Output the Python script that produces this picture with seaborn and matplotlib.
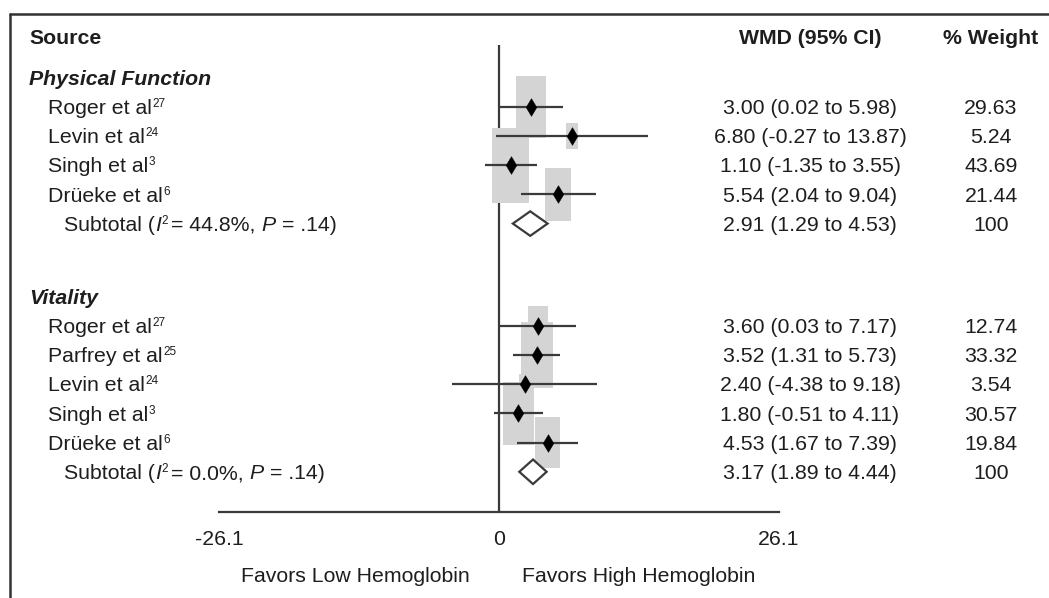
import numpy as np
import pandas as pd
import matplotlib
matplotlib.use("Agg")
import matplotlib.pyplot as plt
from matplotlib import transforms
from matplotlib.lines import Line2D
import seaborn as sns

# ---- data -------------------------------------------------------------
pf_studies = ["Roger et al", "Levin et al", "Singh et al", "Drüeke et al"]
pf_refs = ["27", "24", "3", "6"]
pf_wmd = [3.00, 6.80, 1.10, 5.54]
pf_lo = [0.02, -0.27, -1.35, 2.04]
pf_hi = [5.98, 13.87, 3.55, 9.04]
pf_weight = [29.63, 5.24, 43.69, 21.44]
pf_total = [2.91, 1.29, 4.53]
pf_i2, pf_p = "44.8", ".14"

vit_studies = ["Roger et al", "Parfrey et al", "Levin et al", "Singh et al", "Drüeke et al"]
vit_refs = ["27", "25", "24", "3", "6"]
vit_wmd = [3.60, 3.52, 2.40, 1.80, 4.53]
vit_lo = [0.03, 1.31, -4.38, -0.51, 1.67]
vit_hi = [7.17, 5.73, 9.18, 4.11, 7.39]
vit_weight = [12.74, 33.32, 3.54, 30.57, 19.84]
vit_total = [3.17, 1.89, 4.44]
vit_i2, vit_p = "0.0", ".14"

x_ticks = [-26.1, 0, 26.1]
x_ticklabels = ["-26.1", "0", "26.1"]

# ---- style ------------------------------------------------------------
sns.set_theme(style="white")
plt.rcParams["font.family"] = ["Liberation Sans", "DejaVu Sans"]

TXT = "#1e1e1e"
LINE = "#3a3a3a"
BOX = "#d4d4d4"
FS = 15.3
FS_SUP = 8.5

W, H = 1049, 598
fig = plt.figure(figsize=(W / 100, H / 100), dpi=100)
ax = fig.add_axes([219 / W, 1 - 512 / H, 560 / W, 467 / H])
renderer = fig.canvas.get_renderer()

# row layout (one unit = one table row)
ROW_PX = 29.2
row_src = 0.0
row_pf_head = 1.42
pf_rows = [2.4 + i for i in range(len(pf_studies))]
pf_sub_row = 2.4 + len(pf_studies)
row_vit_head = 8.9
vit_rows = [9.9 + i for i in range(len(vit_studies))]
vit_sub_row = 9.9 + len(vit_studies)

ax.set_xlim(x_ticks[0], x_ticks[-1])
ax.set_ylim((512 - 36.7) / ROW_PX, (45 - 36.7) / ROW_PX)

studies = pd.DataFrame({
    "study": pf_studies + vit_studies,
    "wmd": pf_wmd + vit_wmd,
    "lo": pf_lo + vit_lo,
    "hi": pf_hi + vit_hi,
    "weight": pf_weight + vit_weight,
    "row": pf_rows + vit_rows,
})

# weight boxes: area proportional to study weight
px_per_unit = 560 / (x_ticks[-1] - x_ticks[0])
bw = 5.6 * np.sqrt(studies["weight"]) / px_per_unit
bh = 11.3 * np.sqrt(studies["weight"]) / ROW_PX
ax.bar(studies["wmd"], bh, width=bw, bottom=studies["row"] - bh / 2,
       color=BOX, edgecolor="none", zorder=1)

# confidence intervals
ax.hlines(studies["row"], studies["lo"], studies["hi"], color=LINE, lw=1.6, zorder=2)

# point estimates
sns.scatterplot(data=studies, x="wmd", y="row", marker="d", s=80,
                color="black", edgecolor="black", linewidth=0.4, ax=ax, zorder=3,
                legend=False)

# pooled estimates as open diamonds spanning the CI
for (est, lo, hi), r in [(pf_total, pf_sub_row), (vit_total, vit_sub_row)]:
    h = 0.42
    ax.fill([lo, est, hi, est], [r, r - h, r, r + h], facecolor="white",
            edgecolor=LINE, lw=1.6, zorder=3)

# line of no effect
ax.axvline(0, color=LINE, lw=1.6, zorder=0)

# axes styling
for side in ["top", "right", "left"]:
    ax.spines[side].set_visible(False)
ax.spines["bottom"].set_color(LINE)
ax.spines["bottom"].set_linewidth(1.6)
ax.set_yticks([])
ax.set_xticks(x_ticks)
ax.set_xticklabels(x_ticklabels)
ax.tick_params(axis="x", length=3, width=1.2, color=LINE, pad=10,
               labelsize=FS, labelcolor=TXT)
ax.set_xlabel("")
ax.set_ylabel("")

# ---- table text ---------------------------------------------------------
tr = transforms.blended_transform_factory(fig.transFigure, ax.transData)
BASE = 0.25
x_src, x_study, x_sub = 29 / W, 48 / W, 64 / W
x_wmd, x_wt = 810 / W, 991 / W


def put(x, r, s, ha="left", **kw):
    return ax.text(x, r + BASE, s, transform=tr, ha=ha, va="baseline",
                   fontsize=FS, color=TXT, clip_on=False, **kw)


def put_seq(x, r, segs):
    """Place text pieces one after another; each piece is
    (text, extra kwargs, gap before in px, rise in px)."""
    dx = 0.0
    for s, kw, gap, rise in segs:
        dx += gap
        off = transforms.offset_copy(tr, fig=fig, x=dx, y=rise, units="dots")
        opts = dict(fontsize=FS, color=TXT)
        opts.update(kw)
        t = ax.text(x, r + BASE, s, transform=off, ha="left", va="baseline",
                    clip_on=False, **opts)
        dx += t.get_window_extent(renderer).width


SP = 5.9  # width of a space at the table font size, px
sup = dict(fontsize=FS_SUP)
ital = dict(fontstyle="italic")

put(x_src, row_src, "Source", fontweight="bold")
put(x_wmd, row_src, "WMD (95% CI)", ha="center", fontweight="bold")
put(x_wt, row_src, "% Weight", ha="center", fontweight="bold")

groups = [
    ("Physical Function", row_pf_head, pf_studies, pf_refs, pf_wmd, pf_lo, pf_hi,
     pf_weight, pf_rows, pf_total, pf_sub_row, pf_i2, pf_p),
    ("Vitality", row_vit_head, vit_studies, vit_refs, vit_wmd, vit_lo, vit_hi,
     vit_weight, vit_rows, vit_total, vit_sub_row, vit_i2, vit_p),
]
for (title, hrow, names, refs, est, lo, hi, wt, rows, tot, srow, i2, p) in groups:
    put(x_src, hrow, title, fontweight="bold", fontstyle="italic")
    for n, ref, e, l, h_, w, r in zip(names, refs, est, lo, hi, wt, rows):
        put_seq(x_study, r, [(n, {}, 0, 0), (ref, sup, 0.5, 7)])
        put(x_wmd, r, f"{e:.2f} ({l:.2f} to {h_:.2f})", ha="center")
        put(x_wt, r, f"{w:.2f}", ha="center")
    put_seq(x_sub, srow, [
        ("Subtotal (", {}, 0, 0),
        ("I", ital, 0, 0),
        ("2", sup, 0.5, 7),
        (f"= {i2}%,", {}, SP * 0.6, 0),
        ("P", ital, SP, 0),
        (f"= {p})", {}, SP, 0),
    ])
    put(x_wmd, srow, f"{tot[0]:.2f} ({tot[1]:.2f} to {tot[2]:.2f})", ha="center")
    put(x_wt, srow, "100", ha="center")

# direction labels under the axis
trx = transforms.blended_transform_factory(ax.transData, fig.transFigure)
ax.text(-29 / px_per_unit, 1 - 582 / H, "Favors Low Hemoglobin", transform=trx,
        ha="right", va="baseline", fontsize=FS, color=TXT)
ax.text(23 / px_per_unit, 1 - 582 / H, "Favors High Hemoglobin", transform=trx,
        ha="left", va="baseline", fontsize=FS, color=TXT)

# outer frame (top and left edges)
fig.add_artist(Line2D([10 / W, 1.0], [1 - 14 / H, 1 - 14 / H], color="#333333", lw=1.8))
fig.add_artist(Line2D([10 / W, 10 / W], [0.0, 1 - 14 / H], color="#333333", lw=1.8))

fig.savefig("out.png", dpi=100)
